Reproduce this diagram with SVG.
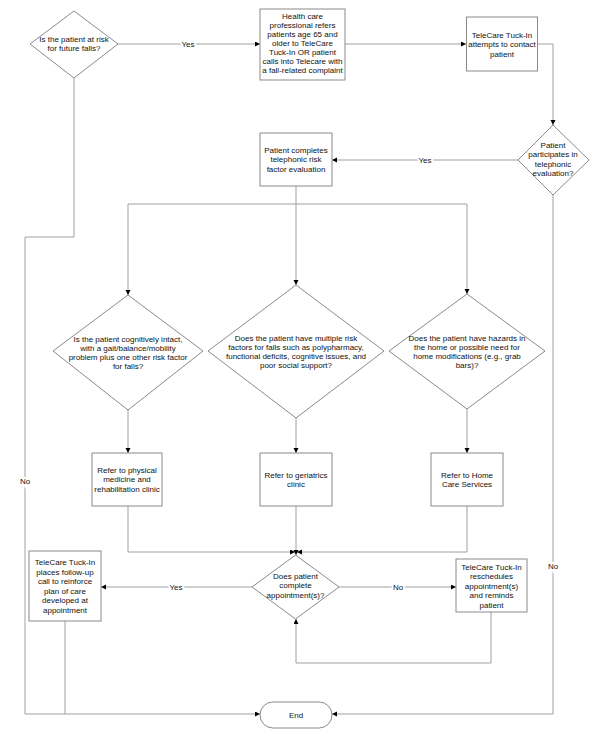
<svg xmlns="http://www.w3.org/2000/svg" width="600" height="748" viewBox="0 0 600 748">
<defs>
<marker id="arr" markerUnits="userSpaceOnUse" markerWidth="6" markerHeight="6" refX="5" refY="2.5" orient="auto">
<path d="M0,0 L5,2.5 L0,5 z" fill="#000"/>
</marker>
<style>
.shape{fill:#fff;stroke:#8a8a8a;stroke-width:1}
.conn{fill:none;stroke:#a0a0a0;stroke-width:1}
.arrow{marker-end:url(#arr)}
text{font-family:"Liberation Sans",Arial,sans-serif;font-size:8px;fill:#111;text-anchor:middle}
.lbl{stroke:#fff;stroke-width:4;paint-order:stroke}
</style>
</defs>
<rect width="600" height="748" fill="#fff"/>

<g id="connectors">
<path class="conn arrow" d="M118,44 H260"/>
<path class="conn arrow" d="M345,44 H466"/>
<path class="conn arrow" d="M538,44 H553 V125"/>
<path class="conn arrow" d="M518,160 H332"/>
<path class="conn" d="M296,186 V204 M128,204 H467"/>
<path class="conn arrow" d="M128,204 V295"/>
<path class="conn arrow" d="M296,204 V285"/>
<path class="conn arrow" d="M467,204 V294"/>
<path class="conn arrow" d="M128,410 V453"/>
<path class="conn arrow" d="M296,418 V453"/>
<path class="conn arrow" d="M467,409 V453"/>
<path class="conn arrow" d="M128,506 V552 H295"/>
<path class="conn arrow" d="M467,506 V552 H297"/>
<path class="conn arrow" d="M296,506 V555"/>
<path class="conn arrow" d="M252,587 H101"/>
<path class="conn arrow" d="M339,587 H456"/>
<path class="conn arrow" d="M491,612 V663 H296 V619"/>
<path class="conn" d="M65,621 V714"/>
<path class="conn arrow" d="M74,78 V237 H25 V714 H260"/>
<path class="conn arrow" d="M553,195 V714 H332"/>
<text class="lbl" x="188" y="47">Yes</text>
<text class="lbl" x="425" y="163">Yes</text>
<text class="lbl" x="176" y="590">Yes</text>
<text class="lbl" x="398" y="590">No</text>
<text class="lbl" x="553" y="569">No</text>
<text class="lbl" x="25" y="484">No</text>
</g>

<g id="q-risk">
<polygon class="shape" points="74,11 118,44 74,78 30,44"/>
<text x="74" y="42">Is the patient at risk</text>
<text x="74" y="51">for future falls?</text>
</g>

<g id="referral">
<rect class="shape" x="260" y="9" width="85" height="71"/>
<text x="302.5" y="18.5">Health care</text>
<text x="302.5" y="27.5">professional refers</text>
<text x="302.5" y="36.6">patients age 65 and</text>
<text x="302.5" y="45.6">older to TeleCare</text>
<text x="302.5" y="54.7">Tuck-In OR patient</text>
<text x="302.5" y="63.7">calls into Telecare with</text>
<text x="302.5" y="72.8">a fall-related complaint</text>
</g>

<g id="contact">
<rect class="shape" x="466.5" y="17" width="71" height="54"/>
<text x="502" y="37.5">TeleCare Tuck-In</text>
<text x="502" y="47">attempts to contact</text>
<text x="502" y="56.5">patient</text>
</g>

<g id="q-participate">
<polygon class="shape" points="553,125 589,160 553,195 518,160"/>
<text x="553" y="148">Patient</text>
<text x="553" y="157.3">participates in</text>
<text x="553" y="166.7">telephonic</text>
<text x="553" y="176">evaluation?</text>
</g>

<g id="evaluation">
<rect class="shape" x="260" y="133" width="72" height="53"/>
<text x="296" y="153">Patient completes</text>
<text x="296" y="162.3">telephonic risk</text>
<text x="296" y="172">factor evaluation</text>
</g>

<g id="q-cognitive">
<polygon class="shape" points="128,295 203,351 128,410 53,351"/>
<text x="128" y="341.5">Is the patient cognitively intact,</text>
<text x="128" y="350.5">with a gait/balance/mobility</text>
<text x="128" y="359.5">problem plus one other risk factor</text>
<text x="128" y="368.5">for falls?</text>
</g>

<g id="q-multiple">
<polygon class="shape" points="296,285 384,351 296,418 208,351"/>
<text x="296" y="341">Does the patient have multiple risk</text>
<text x="296" y="350">factors for falls such as polypharmacy,</text>
<text x="296" y="359">functional deficits, cognitive issues, and</text>
<text x="296" y="368">poor social support?</text>
</g>

<g id="q-hazards">
<polygon class="shape" points="467,294 545,351 467,409 389,351"/>
<text x="467" y="341">Does the patient have hazards in</text>
<text x="467" y="350">the home or possible need for</text>
<text x="467" y="359">home modifications (e.g., grab</text>
<text x="467" y="368">bars)?</text>
</g>

<g id="refer-pmr">
<rect class="shape" x="92" y="453" width="70" height="53"/>
<text x="127" y="473">Refer to physical</text>
<text x="127" y="482.3">medicine and</text>
<text x="127" y="492">rehabilitation clinic</text>
</g>

<g id="refer-geriatrics">
<rect class="shape" x="260" y="453" width="72" height="53"/>
<text x="296" y="477.5">Refer to geriatrics</text>
<text x="296" y="486.8">clinic</text>
</g>

<g id="refer-home">
<rect class="shape" x="431" y="453" width="72" height="53"/>
<text x="467" y="477.5">Refer to Home</text>
<text x="467" y="486.8">Care Services</text>
</g>

<g id="q-appointment">
<polygon class="shape" points="295.5,555 339,587 295.5,619 252,587"/>
<text x="295.5" y="578.5">Does patient</text>
<text x="295.5" y="588">complete</text>
<text x="295.5" y="597.5">appointment(s)?</text>
</g>

<g id="follow-up">
<rect class="shape" x="29" y="551" width="72" height="70"/>
<text x="65" y="565">TeleCare Tuck-In</text>
<text x="65" y="574.5">places follow-up</text>
<text x="65" y="584">call to reinforce</text>
<text x="65" y="593.5">plan of care</text>
<text x="65" y="603">developed at</text>
<text x="65" y="612.5">appointment</text>
</g>

<g id="reschedule">
<rect class="shape" x="456" y="559" width="71" height="53"/>
<text x="491.5" y="569.5">TeleCare Tuck-In</text>
<text x="491.5" y="579">reschedules</text>
<text x="491.5" y="588.5">appointment(s)</text>
<text x="491.5" y="598">and reminds</text>
<text x="491.5" y="607.5">patient</text>
</g>

<g id="end">
<rect class="shape" x="260" y="702" width="72" height="26" rx="13" ry="13"/>
<text x="296" y="718">End</text>
</g>
</svg>
